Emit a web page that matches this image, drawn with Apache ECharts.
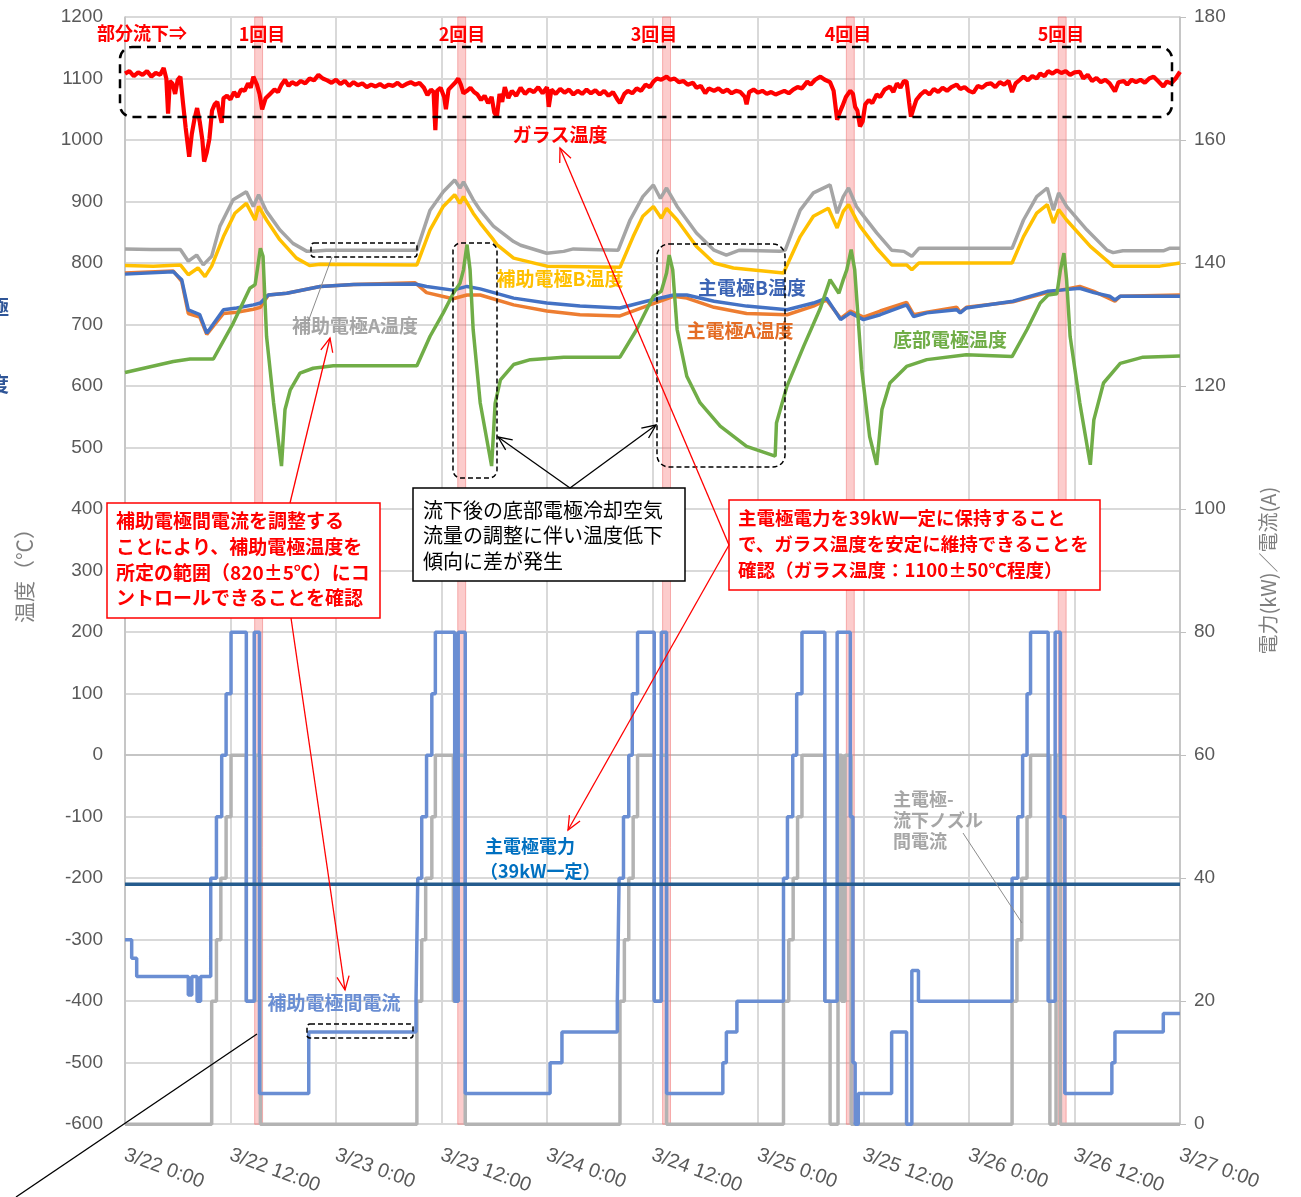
<!DOCTYPE html>
<html><head><meta charset="utf-8">
<script src="https://cdn.jsdelivr.net/npm/echarts@6/dist/echarts.min.js"></script>
<style>html,body{margin:0;padding:0;background:#fff}#c{width:1301px;height:1197px}</style>
</head><body><div id="c"></div>
<script>
// ---- axis / category data ----
const tickLabels = ['3/22 0:00','3/22 12:00','3/23 0:00','3/23 12:00','3/24 0:00','3/24 12:00','3/25 0:00','3/25 12:00','3/26 0:00','3/26 12:00','3/27 0:00'];
const eventTimes = [15.2, 38.3, 61.6, 82.5, 106.6]; // hours from 3/22 0:00
// ---- temperatures (left axis, °C), [hour, value] ----
const glassTemp = [[0,1108],[0.5,1112],[1,1104],[1.5,1110],[2,1106],[2.5,1112],[3,1103],[3.5,1109],[4,1106],[4.4,1117],[4.7,1100],[4.9,1043],[5.1,1096],[5.4,1092],[5.7,1075],[6.0,1098],[6.3,1103],[6.6,1060],[6.9,1020],[7.3,973],[7.6,1010],[7.9,1034],[8.2,1052],[8.5,1030],[8.8,1000],[9.0,965],[9.3,980],[9.6,1002],[9.9,1048],[10.2,1058],[10.5,1062],[10.8,1040],[11.0,1028],[11.2,1068],[11.6,1072],[12.0,1066],[12.4,1078],[12.8,1070],[13.2,1082],[13.6,1080],[14.0,1092],[14.3,1085],[14.6,1103],[15.0,1090],[15.3,1075],[15.6,1050],[16.0,1068],[16.5,1075],[17.0,1082],[17.4,1078],[17.8,1090],[18.2,1098],[18.6,1088],[19.0,1094],[19.5,1090],[20.0,1096],[20.5,1092],[21.0,1100],[21.5,1097],[22.0,1106],[22.5,1100],[23.0,1097],[23.5,1093],[24,1098],[24.5,1091],[25,1096],[25.5,1088],[26,1094],[26.5,1089],[27,1092],[27.5,1086],[28,1090],[28.5,1087],[29,1091],[29.5,1086],[30,1090],[30.5,1088],[31,1093],[31.5,1087],[32,1091],[32.5,1094],[33,1090],[33.5,1093],[34,1085],[34.4,1073],[34.8,1082],[35.1,1078],[35.3,1016],[35.5,1080],[35.9,1085],[36.3,1070],[36.5,1050],[36.8,1082],[37.2,1088],[37.6,1094],[37.9,1100],[38.2,1090],[38.5,1076],[38.9,1080],[39.3,1085],[39.7,1078],[40.1,1074],[40.5,1065],[40.9,1072],[41.3,1060],[41.7,1070],[42.0,1045],[42.3,1038],[42.6,1075],[42.9,1062],[43.2,1086],[43.6,1068],[44.0,1080],[44.5,1072],[45.0,1085],[45.5,1075],[46.0,1082],[46.5,1078],[47.0,1086],[47.5,1076],[48.0,1086],[48.2,1054],[48.5,1082],[49.0,1075],[49.5,1083],[50.0,1077],[50.5,1082],[51.0,1074],[51.5,1080],[52.0,1075],[52.5,1082],[53.0,1076],[53.5,1081],[54.0,1074],[54.5,1080],[55.0,1072],[55.5,1078],[56.0,1066],[56.3,1060],[56.8,1075],[57.2,1080],[57.7,1076],[58.2,1084],[58.7,1080],[59.2,1090],[59.7,1086],[60.1,1095],[60.5,1100],[61.0,1098],[61.6,1103],[62.0,1098],[62.5,1100],[63.0,1094],[63.5,1096],[64.0,1090],[64.6,1093],[65.0,1085],[65.5,1088],[66.0,1076],[66.4,1084],[67.0,1080],[67.5,1084],[68.0,1078],[68.5,1082],[69.0,1076],[69.5,1080],[70.0,1078],[70.5,1070],[70.7,1058],[71.0,1078],[71.5,1082],[72.0,1077],[72.5,1080],[73.0,1075],[73.5,1078],[74.0,1074],[74.5,1077],[75.0,1080],[75.5,1076],[76.0,1082],[76.5,1086],[77.0,1084],[77.6,1095],[78.0,1090],[78.5,1098],[79.1,1103],[79.6,1098],[80.2,1094],[80.6,1080],[81.0,1033],[81.3,1045],[81.6,1055],[82.0,1070],[82.5,1080],[82.8,1075],[83.05,1054],[83.3,1048],[83.6,1022],[83.9,1030],[84.2,1058],[84.6,1065],[85.0,1060],[85.5,1074],[85.9,1070],[86.4,1082],[87.0,1087],[87.4,1078],[87.8,1092],[88.2,1085],[88.6,1096],[88.9,1095],[89.2,1060],[89.4,1038],[89.7,1052],[90.0,1065],[90.5,1074],[91.0,1080],[91.5,1074],[92.0,1083],[92.5,1078],[93.0,1085],[93.5,1080],[94.0,1086],[94.6,1090],[95.0,1083],[95.5,1086],[96.0,1080],[96.5,1077],[97.0,1088],[97.5,1085],[98.0,1091],[98.5,1092],[99.0,1086],[99.5,1094],[100.0,1090],[100.5,1096],[100.9,1078],[101.3,1092],[101.8,1098],[102.2,1103],[102.7,1097],[103.2,1104],[103.7,1100],[104.1,1108],[104.6,1104],[105.0,1112],[105.5,1108],[106.0,1113],[106.5,1109],[107.0,1112],[107.5,1106],[108.0,1110],[108.6,1111],[109.0,1100],[109.5,1106],[110.0,1096],[110.5,1101],[111.0,1094],[111.5,1098],[112.0,1092],[112.6,1079],[113.0,1094],[113.6,1096],[114.0,1090],[114.5,1098],[115.0,1094],[115.5,1098],[116.0,1093],[116.5,1100],[117.0,1103],[117.5,1096],[118.1,1087],[118.5,1095],[119.0,1092],[119.5,1100],[120.0,1111]];
const auxATemp = [[0,823],[3,822],[6.3,822],[7.2,803],[8.15,813],[8.9,797],[9.86,811],[10.8,860],[12.3,903],[13.8,916],[14.6,892],[15.2,911],[16.1,884],[17.6,854],[19.1,832],[20.7,819],[21.4,819],[22.9,821],[33.2,821],[34.7,886],[36.2,916],[37.5,935],[38.1,922],[38.5,932],[39.6,903],[40.4,886],[41.9,860],[44.2,835],[45,829],[47.97,816],[49.9,819],[51.0,823],[56.1,821],[57.45,870],[58.9,908],[60.1,927],[60.9,905],[61.6,922],[62.8,892],[65.0,849],[67.0,821],[68.4,813],[69.9,821],[74.5,819],[75.1,821],[76.8,886],[78.3,914],[80.2,927],[81.0,881],[81.7,908],[82.3,922],[83.2,892],[83.6,884],[85.5,849],[87.2,821],[88.6,819],[89.5,811],[90.3,824],[100.9,824],[102.2,870],[103.7,908],[104.9,922],[105.6,886],[106.2,914],[107.1,892],[109.4,854],[111.7,821],[112.4,817],[113.5,820],[118.1,820],[118.8,824],[120,824]];
const auxBTemp = [[0,796],[3.2,795],[6.3,797],[7.2,781],[8.3,792],[9.1,778],[9.86,795],[11.2,843],[12.5,881],[13.8,897],[14.8,870],[15.2,892],[16.1,870],[17.6,838],[19.5,808],[21.0,796],[22.2,798],[33.2,797],[34.7,854],[36.2,892],[37.5,911],[38.1,897],[38.5,908],[39.6,881],[40.4,865],[41.9,838],[42.3,830],[44.2,808],[47.97,795],[56.3,793],[57.8,843],[58.9,876],[60.1,892],[61.0,873],[61.6,889],[62.8,870],[65.0,827],[67.0,800],[69.2,792],[74.9,784],[76.8,843],[78.3,876],[80.0,889],[81.0,857],[81.7,884],[82.3,895],[83.2,870],[83.6,860],[85.5,824],[87.2,797],[88.9,797],[89.5,789],[90.3,800],[100.9,800],[102.2,843],[103.7,881],[104.9,895],[105.6,865],[106.2,887],[107.1,870],[109.8,827],[112.4,795],[117.7,795],[120,800]];
const mainBTemp = [[0,782],[5.5,786],[6.45,773],[7.2,724],[8.5,716],[9.3,686],[11.2,724],[12.7,727],[14.6,732],[15.4,735],[16.3,748],[18.4,751],[22.2,762],[26,765],[33.0,766],[34.3,762],[37.3,756],[38.9,762],[40.4,758],[44.2,743],[47.97,735],[51.75,730],[56.3,727],[59.3,738],[62.4,748],[63.9,748],[67.0,738],[70.7,730],[75.3,724],[78.3,735],[79.8,743],[81.4,708],[82.5,719],[84.0,708],[85.9,716],[88.9,732],[89.7,713],[91.2,719],[94.6,724],[95.0,719],[95.7,727],[101.0,738],[104.9,754],[106.4,756],[108.6,759],[110.2,752],[112.0,746],[112.6,740],[113.2,746],[120,746]];
const mainATemp = [[0,784],[5.5,787],[6.45,770],[7.2,718],[8.5,712],[9.3,684],[11.2,718],[12.7,720],[14.6,725],[15.4,728],[16.3,748],[18.4,751],[22.2,762],[26,765],[33.0,768],[34.3,752],[37.3,742],[38.9,748],[40.4,748],[44.2,732],[47.97,722],[51.75,716],[56.3,714],[59.3,730],[62.4,746],[63.9,743],[67.0,728],[70.7,718],[75.3,716],[78.3,730],[79.8,740],[81.4,710],[82.5,722],[84.0,712],[85.9,722],[88.9,736],[89.7,716],[91.2,720],[94.6,728],[95.0,720],[95.7,728],[101.0,737],[104.9,752],[106.4,756],[108.6,762],[110.2,754],[112.0,742],[112.6,738],[113.2,746],[120,748]];
const bottomTemp = [[0,622],[5.5,640],[7.4,644],[10.05,644],[12.3,702],[14.2,759],[14.8,765],[15.05,789],[15.4,824],[15.7,811],[16.1,681],[16.9,573],[17.8,470],[18.2,562],[18.8,594],[19.9,621],[21.4,629],[23.7,633],[33.2,633],[34.7,681],[36.2,719],[37.35,751],[38.1,767],[38.5,789],[38.9,830],[39.25,789],[39.6,692],[40.4,573],[41.7,470],[42.1,572],[42.7,610],[44.2,635],[46.1,643],[49.9,647],[56.3,647],[58.2,692],[60.1,746],[61.0,754],[61.6,784],[61.9,813],[62.3,789],[62.8,692],[63.9,616],[65.4,573],[67.7,535],[70.7,502],[73.95,486],[74.1,540],[75.3,600],[77.2,665],[79.1,727],[80.2,773],[81.2,751],[81.7,773],[82.1,789],[82.6,822],[83.0,789],[83.8,627],[84.7,518],[85.5,472],[86.1,562],[87.0,605],[88.9,632],[91.2,643],[95.7,651],[100.9,648],[102.6,692],[104.1,735],[105.0,748],[106.0,750],[106.4,789],[106.8,816],[107.1,773],[107.5,681],[108.6,573],[109.8,472],[110.2,545],[111.3,605],[113.2,637],[115.8,647],[120,649]];
// ---- power / currents (right axis, kW / A) ----
const auxCurrent = [[0,30],[0.76,30],[0.76,27],[1.33,27],[1.33,24],[7.2,24],[7.2,21],[7.6,21],[7.6,24],[8.2,24],[8.2,20],[8.6,20],[8.6,24],[9.75,24],[9.75,40],[10.4,40],[10.4,50],[11.0,50],[11.0,60],[11.5,60],[11.5,70],[12.06,70],[12.06,80],[13.8,80],[13.8,20],[14.7,20],[14.7,80],[15.3,80],[15.3,5],[20.9,5],[20.9,15],[33.1,15],[33.1,20],[33.3,20],[33.3,40],[33.75,40],[33.75,50],[34.3,50],[34.3,60],[34.9,60],[34.9,70],[35.3,70],[35.3,80],[37.5,80],[37.5,20],[37.9,20],[37.9,80],[38.7,80],[38.7,5],[48.35,5],[48.35,10],[49.7,10],[49.7,15],[56.0,15],[56.0,20],[56.2,20],[56.2,40],[56.7,40],[56.7,50],[57.3,50],[57.3,60],[57.7,60],[57.7,70],[58.3,70],[58.3,80],[60.2,80],[60.2,20],[61.0,20],[61.0,80],[61.6,80],[61.6,5],[68.0,5],[68.0,10],[68.4,10],[68.4,15],[69.6,15],[69.6,20],[74.9,20],[74.9,40],[75.35,40],[75.35,50],[75.95,50],[75.95,60],[76.4,60],[76.4,70],[77.0,70],[77.0,80],[79.6,80],[79.6,20],[81.0,20],[81.0,80],[82.5,80],[82.5,50],[82.8,50],[82.8,10],[83.05,10],[83.05,0],[83.4,0],[83.4,5],[87.2,5],[87.2,15],[88.9,15],[88.9,0],[89.5,0],[89.5,25],[90.25,25],[90.25,20],[100.9,20],[100.9,40],[101.55,40],[101.55,50],[102.1,50],[102.1,60],[102.6,60],[102.6,70],[103.0,70],[103.0,80],[105.0,80],[105.0,20],[105.8,20],[105.8,80],[106.4,80],[106.4,50],[106.9,50],[106.9,5],[112.25,5],[112.25,10],[112.6,10],[112.6,15],[118.1,15],[118.1,18],[120,18]];
const nozzleCurrent = [[0,0],[9.86,0],[9.86,20],[10.4,20],[10.4,30],[10.9,30],[10.9,40],[11.5,40],[11.5,50],[12.06,50],[12.06,60],[13.8,60],[13.8,20],[14.8,20],[14.8,60],[15.4,60],[15.4,0],[33.2,0],[33.2,20],[33.75,20],[33.75,30],[34.2,30],[34.2,40],[34.9,40],[34.9,50],[35.3,50],[35.3,60],[37.35,60],[37.35,20],[37.9,20],[37.9,60],[38.7,60],[38.7,0],[56.3,0],[56.3,20],[56.8,20],[56.8,30],[57.3,30],[57.3,40],[57.8,40],[57.8,50],[58.3,50],[58.3,60],[60.2,60],[60.2,20],[61.0,20],[61.0,60],[61.6,60],[61.6,0],[74.9,0],[74.9,20],[75.5,20],[75.5,30],[76.0,30],[76.0,40],[76.5,40],[76.5,50],[77.0,50],[77.0,60],[79.6,60],[79.6,20],[80.2,20],[80.2,0],[81.1,0],[81.1,60],[81.5,60],[81.5,20],[81.9,20],[81.9,60],[82.6,60],[82.6,0],[100.9,0],[100.9,20],[101.45,20],[101.45,30],[102.0,30],[102.0,40],[102.6,40],[102.6,50],[103.0,50],[103.0,60],[105.2,60],[105.2,0],[105.9,0],[105.9,60],[106.4,60],[106.4,0],[120,0]];
const mainPower = [[0,39],[12,39],[24,39],[36,39],[48,39],[60,39],[72,39],[84,39],[96,39],[108,39],[120,39]];

const chart = echarts.init(document.getElementById('c'), null, {renderer:'canvas'});
const JP = '"Noto Sans CJK JP"';
const AX = '"Liberation Sans", sans-serif';
const gridColor = '#D9D9D9';

function lineSeries(name, data, color, yIdx, width){
  return {name, type:'line', data, yAxisIndex:yIdx, showSymbol:false, symbol:'none',
    lineStyle:{color, width}, itemStyle:{color}, z:2, animation:false};
}

const bands = eventTimes.map(t => [{xAxis: t-0.45}, {xAxis: t+0.45}]);

const series = [
  lineSeries('主電極-流下ノズル間電流', nozzleCurrent, '#B3B3B3', 1, 3.5),
  lineSeries('補助電極間電流', auxCurrent, '#6A8ED3', 1, 3.5),
  lineSeries('主電極電力', mainPower, '#255C8E', 1, 3.5),
  lineSeries('補助電極A温度', auxATemp, '#A5A5A5', 0, 3.5),
  lineSeries('補助電極B温度', auxBTemp, '#FFC000', 0, 3.5),
  lineSeries('主電極A温度', mainATemp, '#ED7D31', 0, 3.5),
  lineSeries('主電極B温度', mainBTemp, '#4472C4', 0, 3.5),
  lineSeries('底部電極温度', bottomTemp, '#70AD47', 0, 3.5),
  lineSeries('ガラス温度', glassTemp, '#FF0000', 0, 4.2),
  {type:'line', data:[], yAxisIndex:0, z:5, silent:true,
   markArea:{silent:true, itemStyle:{color:'rgba(248,120,120,0.38)', borderColor:'rgba(240,120,120,0.55)', borderWidth:1}, data: bands}}
];

chart.setOption({
  animation:false,
  backgroundColor:'#fff',
  grid:{left:125, right:121, top:17, bottom:72, containLabel:false},
  xAxis:{type:'value', min:0, max:120, interval:12,
    axisLine:{show:true, lineStyle:{color:'#BFBFBF', width:1.5}},
    axisTick:{show:false},
    splitLine:{show:true, lineStyle:{color:gridColor, width:2}},
    axisLabel:{rotate:-20, margin:30, color:'#595959', fontSize:20, fontFamily:AX,
      formatter: v => tickLabels[Math.round(v/12)]}
  },
  yAxis:[
    {type:'value', min:-600, max:1200, interval:100, position:'left',
      name:'温度（℃）', nameLocation:'middle', nameGap:90, nameRotate:90,
      nameTextStyle:{color:'#7F7F7F', fontSize:21, fontFamily:JP},
      axisLine:{show:true, lineStyle:{color:'#BFBFBF', width:1.5}},
      axisTick:{show:false},
      splitLine:{show:true, lineStyle:{color:gridColor, width:2}},
      axisLabel:{color:'#595959', fontSize:19, fontFamily:AX, margin:22, formatter: v => String(v)}},
    {type:'value', min:0, max:180, interval:20, position:'right',
      name:'電力(kW)／電流(A)', nameLocation:'middle', nameGap:78, nameRotate:90,
      nameTextStyle:{color:'#7F7F7F', fontSize:20, fontFamily:JP},
      axisLine:{show:true, lineStyle:{color:'#BFBFBF', width:1.5}},
      axisTick:{show:true, length:6, lineStyle:{color:'#BFBFBF'}},
      splitLine:{show:false},
      axisLabel:{color:'#595959', fontSize:19, fontFamily:AX, margin:14, formatter: v => String(v)}}
  ],
  series
});

// ---- annotations ----
const G = [];
function txt(x, y, text, color, size, weight, align){
  G.push({type:'text', x, y, z:100, style:{text, fill:color, fontSize:size, fontWeight:weight||'bold', fontFamily:JP, align:align||'center', verticalAlign:'middle'}});
}
function line(x1,y1,x2,y2,color,w,head){
  G.push({type:'line', z:100, shape:{x1,y1,x2,y2}, style:{stroke:color, lineWidth:w}});
  if(head){
    const a = Math.atan2(y2-y1, x2-x1), L = 15, s = 0.42;
    G.push({type:'polyline', z:100, shape:{points:[[x2-L*Math.cos(a-s), y2-L*Math.sin(a-s)],[x2,y2],[x2-L*Math.cos(a+s), y2-L*Math.sin(a+s)]]}, style:{stroke:color, lineWidth:w, fill:null}});
  }
}
function dashBox(x1,y1,x2,y2,r,w,dash){
  G.push({type:'rect', z:100, shape:{x:x1, y:y1, width:x2-x1, height:y2-y1, r}, style:{fill:null, stroke:'#000', lineWidth:w, lineDash:dash}});
}
function box(x1,y1,x2,y2,stroke){
  G.push({type:'rect', z:99, shape:{x:x1, y:y1, width:x2-x1, height:y2-y1}, style:{fill:'#fff', stroke, lineWidth:1.5}});
}

// top labels
txt(97, 33, '部分流下⇒', '#FF0000', 18, 'bold', 'left');
[[262,'1回目'],[462,'2回目'],[654,'3回目'],[848,'4回目'],[1061,'5回目']].forEach(p => txt(p[0], 34, p[1], '#FF0000', 18));
// series labels
txt(560, 135, 'ガラス温度', '#FF0000', 19);
txt(355, 326, '補助電極A温度', '#A5A5A5', 19);
txt(560, 279, '補助電極B温度', '#FFC000', 19);
txt(752, 288, '主電極B温度', '#3C64B4', 19);
txt(740, 331, '主電極A温度', '#E46C24', 19);
txt(950, 340, '底部電極温度', '#70AD47', 19);
txt(334, 1003, '補助電極間電流', '#6A8ED3', 19);
txt(485, 846, '主電極電力', '#0070C0', 18, 'bold', 'left');
txt(480, 871, '（39kW一定）', '#0070C0', 18, 'bold', 'left');
txt(893, 799, '主電極-', '#A6A6A6', 18, 'bold', 'left');
txt(893, 820, '流下ノズル', '#A6A6A6', 18, 'bold', 'left');
txt(893, 841, '間電流', '#A6A6A6', 18, 'bold', 'left');
// cut-off glyphs at left edge
txt(-11, 307, '極', '#2F5597', 20, 'bold', 'left');
txt(-11, 384, '度', '#2F5597', 20, 'bold', 'left');

// dashed boxes
dashBox(120, 47, 1172, 117, 12, 2.5, [9,6]);
dashBox(311, 243, 417, 257, 3, 1.5, [5,3]);
dashBox(453, 243, 497, 478, 8, 1.5, [5,3]);
dashBox(657, 244, 785, 467, 12, 1.5, [5,3]);
dashBox(307, 1024, 413, 1038, 3, 1.5, [5,3]);

// arrows / leader lines
line(290, 503, 330, 338, '#FF0000', 1.3, true);
line(291, 618, 345, 990, '#FF0000', 1.3, true);
line(729, 545, 560, 148, '#FF0000', 1.3, true);
line(729, 545, 568, 830, '#FF0000', 1.3, true);
line(570, 488, 498, 437, '#000', 1.3, true);
line(570, 488, 656, 425, '#000', 1.3, true);
line(308, 322, 332, 257, '#8C8C8C', 1, false);
line(963, 833, 1022, 923, '#8C8C8C', 1, false);
line(16, 1197, 257, 1034, '#000', 1.3, false);

// text boxes
box(107, 503, 380, 618, '#FF0000');
['補助電極間電流を調整する','ことにより、補助電極温度を','所定の範囲（820±5℃）にコ','ントロールできることを確認'].forEach((s,i)=>txt(116, 521+i*25.7, s, '#FF0000', 19, 'bold', 'left'));
box(413, 488, 685, 581, '#000');
['流下後の底部電極冷却空気','流量の調整に伴い温度低下','傾向に差が発生'].forEach((s,i)=>txt(423, 510+i*25.5, s, '#000', 20, 'normal', 'left'));
box(729, 500, 1100, 590, '#FF0000');
['主電極電力を39kW一定に保持すること','で、ガラス温度を安定に維持できることを','確認（ガラス温度：1100±50℃程度）'].forEach((s,i)=>txt(738, 518+i*26, s, '#FF0000', 18.5, 'bold', 'left'));

chart.setOption({graphic: G});
</script></body></html>
